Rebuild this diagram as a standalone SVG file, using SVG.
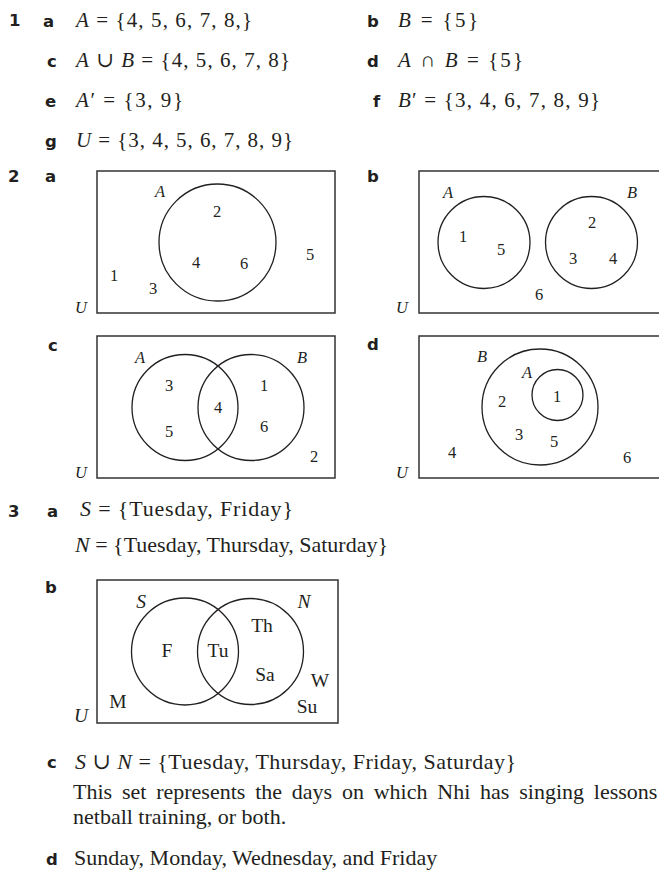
<svg xmlns="http://www.w3.org/2000/svg" width="659" height="879" viewBox="0 0 659 879">
<style>
  .lbl { font-family: "DejaVu Sans", "Liberation Sans", sans-serif; font-weight: bold; font-size: 16.5px; fill: #231f20; }
  .m { font-family: "Liberation Serif", "DejaVu Serif", serif; font-size: 21px; fill: #231f20; }
  .t { font-family: "Liberation Serif", "DejaVu Serif", serif; font-size: 22px; fill: #231f20; }
  .v { font-family: "Liberation Serif", "DejaVu Serif", serif; font-size: 16.5px; fill: #231f20; text-anchor: middle; }
  .w { font-family: "Liberation Serif", "DejaVu Serif", serif; font-size: 19.5px; fill: #231f20; text-anchor: middle; }
  .i { font-style: italic; }
  .box { fill: none; stroke: #333333; stroke-width: 1.5; }
  .c { fill: none; stroke: #231f20; stroke-width: 1.3; }
</style>
<rect width="659" height="879" fill="#ffffff"/>

<!-- Question 1 -->
<g id="q1">
  <text class="lbl" x="9" y="26">1</text>
  <text class="lbl" x="43" y="27">a</text>
  <text class="m" x="76" y="27" textLength="176" lengthAdjust="spacing"><tspan class="i">A</tspan> = {4, 5, 6, 7, 8,}</text>
  <text class="lbl" x="367" y="27">b</text>
  <text class="m" x="398" y="27" textLength="80" lengthAdjust="spacing"><tspan class="i">B</tspan> = {5}</text>
  <text class="lbl" x="47" y="67">c</text>
  <text class="m" x="76" y="67" textLength="214" lengthAdjust="spacing"><tspan class="i">A</tspan> ∪ <tspan class="i">B</tspan> = {4, 5, 6, 7, 8}</text>
  <text class="lbl" x="367" y="67">d</text>
  <text class="m" x="398" y="67" textLength="125" lengthAdjust="spacing"><tspan class="i">A</tspan> ∩ <tspan class="i">B</tspan> = {5}</text>
  <text class="lbl" x="45" y="107">e</text>
  <text class="m" x="76" y="107" textLength="107" lengthAdjust="spacing"><tspan class="i">A</tspan>′ = {3, 9}</text>
  <text class="lbl" x="373" y="107">f</text>
  <text class="m" x="398" y="107" textLength="202" lengthAdjust="spacing"><tspan class="i">B</tspan>′ = {3, 4, 6, 7, 8, 9}</text>
  <text class="lbl" x="45" y="147">g</text>
  <text class="m" x="76" y="147" textLength="217" lengthAdjust="spacing"><tspan class="i">U</tspan> = {3, 4, 5, 6, 7, 8, 9}</text>
</g>

<!-- Question 2 -->
<g id="q2-labels">
  <text class="lbl" x="8" y="182">2</text>
  <text class="lbl" x="45" y="182">a</text>
  <text class="lbl" x="367" y="182">b</text>
  <text class="lbl" x="48" y="351">c</text>
  <text class="lbl" x="367" y="350">d</text>
</g>

<g id="venn-2a">
  <rect class="box" x="97" y="171" width="238" height="142"/>
  <circle class="c" cx="217.5" cy="242.5" r="58.5"/>
  <text class="v i" x="160" y="197">A</text>
  <text class="v" x="217" y="217">2</text>
  <text class="v" x="196" y="268">4</text>
  <text class="v" x="244" y="269">6</text>
  <text class="v" x="310" y="260">5</text>
  <text class="v" x="114" y="281">1</text>
  <text class="v" x="153" y="294">3</text>
  <text class="v i" x="81" y="313">U</text>
</g>

<g id="venn-2b">
  <rect class="box" x="419" y="171" width="260" height="142"/>
  <circle class="c" cx="484" cy="242.5" r="46"/>
  <circle class="c" cx="591.5" cy="242.5" r="46"/>
  <text class="v i" x="448" y="198">A</text>
  <text class="v i" x="632" y="198">B</text>
  <text class="v" x="463" y="242">1</text>
  <text class="v" x="501" y="255">5</text>
  <text class="v" x="592" y="228">2</text>
  <text class="v" x="573" y="264">3</text>
  <text class="v" x="613" y="264">4</text>
  <text class="v" x="539" y="300">6</text>
  <text class="v i" x="402" y="313">U</text>
</g>

<g id="venn-2c">
  <rect class="box" x="97" y="336" width="238" height="142"/>
  <circle class="c" cx="185" cy="407.5" r="53"/>
  <circle class="c" cx="251" cy="407.5" r="53"/>
  <text class="v i" x="140" y="363">A</text>
  <text class="v i" x="302" y="363">B</text>
  <text class="v" x="169" y="391">3</text>
  <text class="v" x="264" y="391">1</text>
  <text class="v" x="218" y="413">4</text>
  <text class="v" x="169" y="437">5</text>
  <text class="v" x="264" y="432">6</text>
  <text class="v" x="314" y="462">2</text>
  <text class="v i" x="81" y="478">U</text>
</g>

<g id="venn-2d">
  <rect class="box" x="419" y="336" width="260" height="142"/>
  <circle class="c" cx="540" cy="407" r="58"/>
  <circle class="c" cx="557.5" cy="395" r="25.5"/>
  <text class="v i" x="482" y="362">B</text>
  <text class="v i" x="527" y="378">A</text>
  <text class="v" x="557" y="402">1</text>
  <text class="v" x="502" y="407">2</text>
  <text class="v" x="519" y="440">3</text>
  <text class="v" x="554" y="447">5</text>
  <text class="v" x="452" y="458">4</text>
  <text class="v" x="627" y="463">6</text>
  <text class="v i" x="402" y="478">U</text>
</g>

<!-- Question 3 -->
<g id="q3">
  <text class="lbl" x="8" y="517">3</text>
  <text class="lbl" x="47" y="517">a</text>
  <text class="t" x="80" y="516" textLength="213" lengthAdjust="spacing"><tspan class="i">S</tspan> = {Tuesday, Friday}</text>
  <text class="t" x="75" y="552"><tspan class="i">N</tspan> = {Tuesday, Thursday, Saturday}</text>
  <text class="lbl" x="45" y="593">b</text>
  <text class="lbl" x="47" y="768">c</text>
  <text class="t" x="75" y="769" textLength="441" lengthAdjust="spacing"><tspan class="i">S</tspan> ∪ <tspan class="i">N</tspan> = {Tuesday, Thursday, Friday, Saturday}</text>
  <text class="t" x="73" y="799" word-spacing="4.3">This set represents the days on which Nhi has singing lessons</text>
  <text class="t" x="73" y="824">netball training, or both.</text>
  <text class="lbl" x="46" y="865">d</text>
  <text class="t" x="74" y="865">Sunday, Monday, Wednesday, and Friday</text>
</g>

<g id="venn-3b">
  <rect class="box" x="97" y="580" width="241" height="143"/>
  <circle class="c" cx="185" cy="651.5" r="53.5"/>
  <circle class="c" cx="250.5" cy="651.5" r="53"/>
  <text class="w i" x="141" y="608">S</text>
  <text class="w i" x="304" y="608">N</text>
  <text class="w" x="167" y="657">F</text>
  <text class="w" x="218" y="657">Tu</text>
  <text class="w" x="262" y="632">Th</text>
  <text class="w" x="265" y="681">Sa</text>
  <text class="w" x="320" y="687">W</text>
  <text class="w" x="118" y="708">M</text>
  <text class="w" x="307" y="713">Su</text>
  <text class="w i" x="81" y="722">U</text>
</g>

<g id="connectors"></g>
</svg>
